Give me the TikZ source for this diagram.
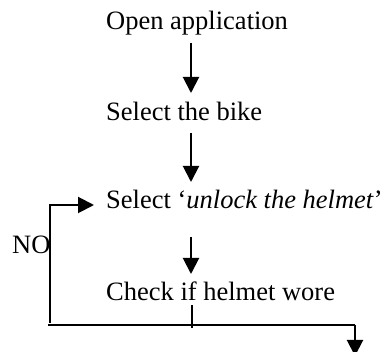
\documentclass[tikz,border=0pt]{standalone}
\usepackage{fontspec}
\setmainfont{Liberation Serif}
\usetikzlibrary{arrows.meta}

\tikzset{
    step text/.style={anchor=base west, inner sep=0pt, font=\fontsize{26.5}{30}\selectfont},
    flow/.style={line width=2pt, -{Triangle[length=16pt,width=16pt]}},
    line/.style={line width=2pt}
}

\begin{document}
\begin{tikzpicture}[x=1pt, y=-1pt]
\useasboundingbox (0,0) rectangle (383,352);
% steps
\node[step text] (open) at (106,30) {Open application};
\node[step text] (bike) at (106,121) {Select the bike};
\node[step text] (unlock) at (106,209) {Select ‘\textit{unlock the helmet}’};
\node[step text] (check) at (106,301) {Check if helmet wore};
\node[step text] (no) at (12,254) {NO};
% arrow ends
\coordinate (a1s) at (191,43);
\coordinate (a1e) at (191,93);
\coordinate (a2s) at (191,133);
\coordinate (a2e) at (191,182);
\coordinate (a3s) at (191,237);
\coordinate (a3e) at (191,274);
\coordinate (tick) at (192,305);
\coordinate (loopl) at (48,325);
\coordinate (loopb) at (50,323);
\coordinate (loopt) at (50,205);
\coordinate (loope) at (94,205);
\coordinate (outr) at (355,325);
\coordinate (oute) at (355,356);
% connectors
\draw[flow] (a1s) -- (a1e);
\draw[flow] (a2s) -- (a2e);
\draw[flow] (a3s) -- (a3e);
\draw[line] (tick) -- ++(0,23);
\draw[line] (loopl) -- (outr);
\draw[flow] (outr) -- (oute);
\draw[flow] (loopb) -- (loopt) -- (loope);
\end{tikzpicture}
\end{document}
